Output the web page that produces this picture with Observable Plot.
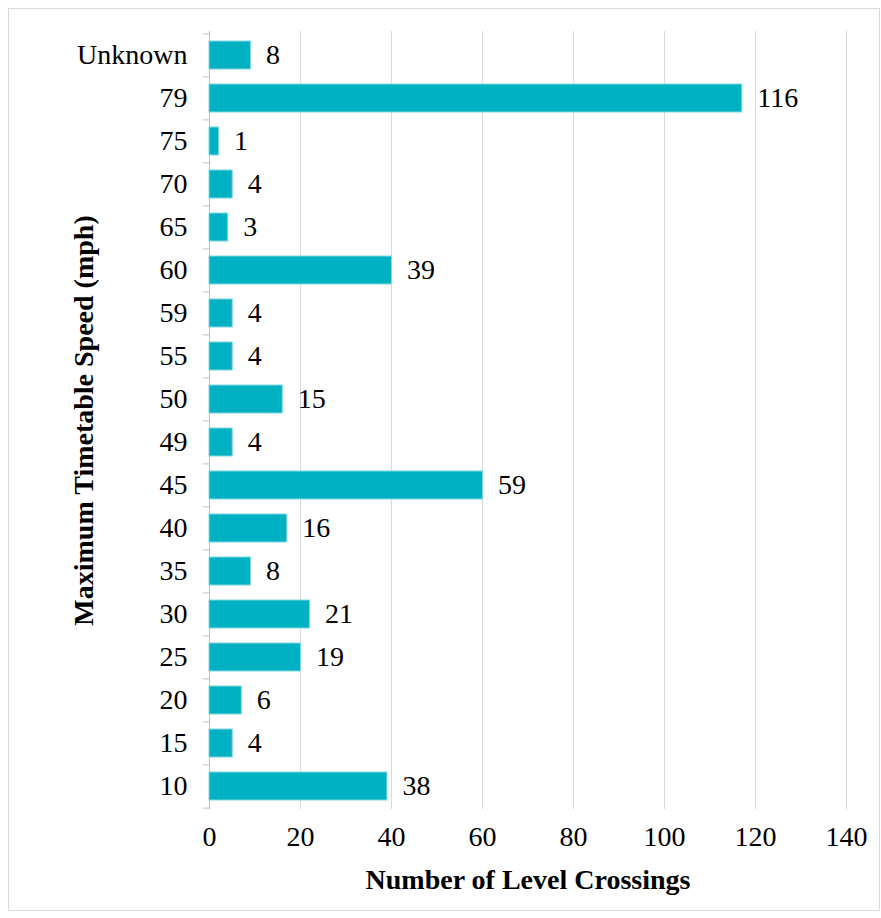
<!DOCTYPE html>
<html>
<head>
<meta charset="utf-8">
<script src="https://cdn.jsdelivr.net/npm/d3@7"></script>
<script src="https://cdn.jsdelivr.net/npm/@observablehq/plot@0.6"></script>
<style>
  html, body { margin: 0; padding: 0; background: #fff; }
  #wrap { position: relative; width: 881px; height: 918px; }
  #border { position: absolute; left: 8px; top: 8px; width: 872px; height: 903px; border: 1px solid #d9d9d9; box-sizing: border-box; pointer-events: none; }
</style>
</head>
<body>
<div id="wrap"><div id="border"></div></div>
<script>
const speeds = ["Unknown", "79", "75", "70", "65", "60", "59", "55", "50", "49", "45", "40", "35", "30", "25", "20", "15", "10"];
const counts = [8, 116, 1, 4, 3, 39, 4, 4, 15, 4, 59, 16, 8, 21, 19, 6, 4, 38];
const xTicks = [0, 20, 40, 60, 80, 100, 120, 140];
const xTitle = "Number of Level Crossings";
const yTitle = "Maximum Timetable Speed (mph)";

const data = speeds.map((s, i) => ({speed: s, count: counts[i]}));

const W = 881, H = 918;
const mTop = 31, mBottom = 109, mLeft = 209, mRight = 35;
const step = (H - mTop - mBottom) / speeds.length;
const font = "'Liberation Serif', 'Times New Roman', serif";
const teal = "#00B0C3";
const fs = 28;

const chart = Plot.plot({
  width: W,
  height: H,
  marginTop: mTop,
  marginBottom: mBottom,
  marginLeft: mLeft,
  marginRight: mRight,
  style: {fontFamily: font, fontSize: fs + "px", color: "#000", background: "transparent"},
  x: {domain: [0, 140], ticks: xTicks},
  y: {domain: speeds, paddingInner: 0.35, paddingOuter: 0.175},
  marks: [
    Plot.gridX(xTicks.filter(t => t > 0), {stroke: "#d9d9d9", strokeOpacity: 1, strokeWidth: 1}),
    Plot.ruleX([0], {stroke: "#bfbfbf", strokeWidth: 1}),
    Plot.ruleY(speeds, {y: d => d, x1: 0, x2: 0, insetLeft: -6, dy: -step / 2, stroke: "#bfbfbf"}),
    Plot.ruleY(speeds.slice(-1), {y: d => d, x1: 0, x2: 0, insetLeft: -6, dy: step / 2, stroke: "#bfbfbf"}),
    Plot.barX(data, {y: "speed", x1: 0, x2: "count", fill: teal, stroke: "#7fd8e1", strokeWidth: 1, insetRight: -5}),
    Plot.text(data, {y: "speed", x: "count", text: d => String(d.count), textAnchor: "start", dx: 20, fontSize: fs, fill: "#000"}),
    Plot.axisX({ticks: xTicks, tickSize: 0, tickPadding: 17, fontSize: fs, label: null, tickFormat: d => String(d)}),
    Plot.axisY({tickSize: 0, tickPadding: 22, fontSize: fs, label: null}),
    Plot.text([xTitle], {frameAnchor: "bottom", dy: 79, text: d => d, fontSize: fs, fontWeight: "bold", fill: "#000", lineAnchor: "bottom"}),
    Plot.text([yTitle], {frameAnchor: "left", dx: -125, rotate: -90, textAnchor: "middle", text: d => d, fontSize: fs, fontWeight: "bold", fill: "#000"})
  ]
});
document.getElementById("wrap").prepend(chart);
</script>
</body>
</html>
